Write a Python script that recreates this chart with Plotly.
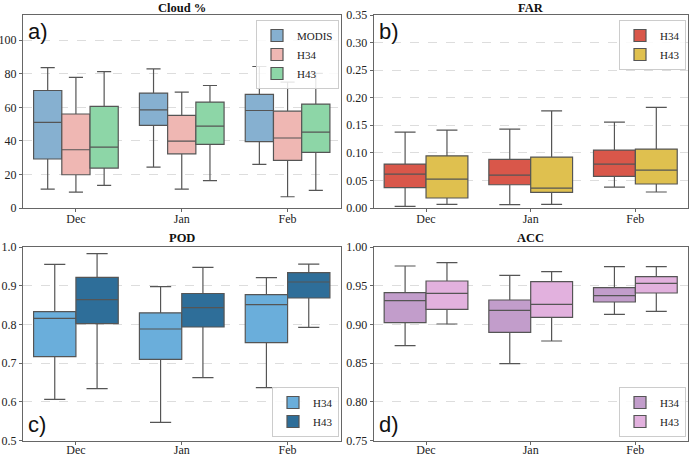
import plotly.graph_objects as go

months = ["Dec", "Jan", "Feb"]

# Cloud % (panel a)
cloud_modis = dict(low=[11.3, 24.4, 26.0], q1=[29.2, 49.2, 39.5], med=[51.0, 58.5, 58.1], q3=[70.0, 68.5, 67.7], high=[83.7, 82.9, 84.3])
cloud_h34 = dict(low=[9.5, 11.3, 6.7], q1=[19.8, 32.3, 28.4], med=[34.7, 39.9, 41.7], q3=[56.0, 55.2, 57.7], high=[77.8, 69.0, 75.0])
cloud_h43 = dict(low=[13.5, 16.3, 10.5], q1=[23.8, 37.9, 33.1], med=[36.3, 48.8, 45.2], q3=[60.5, 63.1, 61.9], high=[81.3, 73.0, 80.2])

# FAR (panel b)
far_h34 = dict(low=[0.003, 0.006, 0.038], q1=[0.0368, 0.0422, 0.0573], med=[0.0616, 0.0597, 0.0797], q3=[0.0797, 0.0881, 0.105], high=[0.1376, 0.143, 0.1557])
far_h43 = dict(low=[0.0066, 0.0066, 0.029], q1=[0.0181, 0.0284, 0.0435], med=[0.0525, 0.0362, 0.0688], q3=[0.0947, 0.0923, 0.1068], high=[0.1412, 0.176, 0.1823])

# POD (panel c)
pod_h34 = dict(low=[0.6067, 0.5473, 0.6368], q1=[0.7169, 0.710, 0.753], med=[0.8158, 0.7883, 0.8511], q3=[0.833, 0.830, 0.877], high=[0.9553, 0.8976, 0.9208])
pod_h43 = dict(low=[0.6343, 0.6627, 0.7926], q1=[0.802, 0.7935, 0.8683], med=[0.864, 0.8434, 0.9096], q3=[0.9217, 0.880, 0.9337], high=[0.9828, 0.9475, 0.956])

# ACC (panel d)
acc_h34 = dict(low=[0.8726, 0.8494, 0.9131], q1=[0.9023, 0.8898, 0.929], med=[0.9307, 0.9182, 0.9372], q3=[0.941, 0.9316, 0.9475], high=[0.9755, 0.9634, 0.9746])
acc_h43 = dict(low=[0.9006, 0.8787, 0.9169], q1=[0.9195, 0.9092, 0.9406], med=[0.9402, 0.926, 0.9531], q3=[0.9561, 0.9553, 0.9617], high=[0.9798, 0.9682, 0.9746])

panels = [
    dict(xa="x", ya="y", legend="legend", title="Cloud %", label="a)", yrange=[0, 115], dtick=20, tickfmt="d",
         series=[("MODIS", cloud_modis, "#86b0d0"), ("H34", cloud_h34, "#efb7b3"), ("H43", cloud_h43, "#8dd6a7")]),
    dict(xa="x2", ya="y2", legend="legend2", title="FAR", label="b)", yrange=[0, 0.35], dtick=0.05, tickfmt=".2f",
         series=[("H34", far_h34, "#d9574a"), ("H43", far_h43, "#dfc04f")]),
    dict(xa="x3", ya="y3", legend="legend3", title="POD", label="c)", yrange=[0.5, 1.0], dtick=0.1, tickfmt=".1f",
         series=[("H34", pod_h34, "#6aaedb"), ("H43", pod_h43, "#2e6e99")]),
    dict(xa="x4", ya="y4", legend="legend4", title="ACC", label="d)", yrange=[0.75, 1.0], dtick=0.05, tickfmt=".2f",
         series=[("H34", acc_h34, "#c29dcb"), ("H43", acc_h43, "#e2b1de")]),
]

W, H = 694, 456
def px(v): return v / W
def py(v): return 1 - v / H

domains = [
    ([px(23), px(340.5)], [py(208), py(15)]),
    ([px(373.7), px(687.7)], [py(208), py(15)]),
    ([px(23), px(340.5)], [py(440.7), py(247)]),
    ([px(373.7), px(687.7)], [py(440.7), py(247)]),
]

legend_pos = [
    dict(x=px(339), y=py(20), xanchor="right", yanchor="top"),
    dict(x=px(686), y=py(20), xanchor="right", yanchor="top"),
    dict(x=px(339), y=py(437), xanchor="right", yanchor="bottom"),
    dict(x=px(686), y=py(437), xanchor="right", yanchor="bottom"),
]
label_pos = [
    (px(26), py(17)), (px(377), py(17)), (px(26), py(439)), (px(377), py(439))
]
title_y = [py(8.5), py(8.5), py(238), py(238)]
standoffs = [-4, -4, -5, -5]

serif = "Liberation Serif"
edge = "#555555"

fig = go.Figure()
layout = dict(
    width=W, height=H, margin=dict(l=0, r=0, t=0, b=0, autoexpand=False),
    paper_bgcolor="white", plot_bgcolor="white",
    boxmode="group", boxgap=0.2, boxgroupgap=0.0,
    font=dict(family=serif, size=12, color="#222222"),
    showlegend=True,
)
annotations = []
for i, p in enumerate(panels):
    for name, d, col in p["series"]:
        fig.add_trace(go.Box(
            x=months, q1=d["q1"], median=d["med"], q3=d["q3"],
            lowerfence=d["low"], upperfence=d["high"],
            name=name, fillcolor=col, line=dict(color=edge, width=1.2),
            whiskerwidth=0.5, xaxis=p["xa"], yaxis=p["ya"], legend=p["legend"],
            alignmentgroup="panel%d" % i, offsetgroup=name,
            boxpoints=False, hoverinfo="skip",
        ))
    suffix = "" if i == 0 else str(i + 1)
    xd, yd = domains[i]
    layout["xaxis" + suffix] = dict(
        domain=xd, anchor=p["ya"], type="category", categoryorder="array", categoryarray=months,
        showline=True, mirror=True, linecolor="#666666", linewidth=1.2,
        ticks="outside", ticklen=3, tickcolor="#666666", showgrid=False, automargin=False,
        ticklabelstandoff=standoffs[i],
        tickfont=dict(family=serif, size=12, color="#222222"),
    )
    layout["yaxis" + suffix] = dict(
        domain=yd, anchor=p["xa"], range=p["yrange"], dtick=p["dtick"], tick0=0, tickformat=p["tickfmt"],
        showline=True, mirror=True, linecolor="#666666", linewidth=1.2,
        ticks="outside", ticklen=3, tickcolor="#666666", automargin=False,
        showgrid=True, gridcolor="#dddddd", griddash="dash", gridwidth=0.8, zeroline=False,
        tickfont=dict(family=serif, size=12, color="#222222"),
    )
    lp = legend_pos[i]
    layout[p["legend"]] = dict(
        x=lp["x"], y=lp["y"], xanchor=lp["xanchor"], yanchor=lp["yanchor"],
        xref="paper", yref="paper",
        bgcolor="rgba(255,255,255,0.85)", bordercolor="#cccccc", borderwidth=1,
        font=dict(family=serif, size=11, color="#222222"), tracegroupgap=0,
        itemwidth=30,
    )
    annotations.append(dict(
        text="<b>" + p["title"] + "</b>", x=(xd[0] + xd[1]) / 2, y=title_y[i], xref="paper", yref="paper",
        xanchor="center", yanchor="middle", borderpad=0, showarrow=False,
        font=dict(family=serif, size=12.5, color="#111111"),
    ))
    lx, ly = label_pos[i]
    annotations.append(dict(
        text=p["label"], x=lx, y=ly, xref="paper", yref="paper",
        xanchor="left", yanchor="top" if i < 2 else "bottom", showarrow=False,
        font=dict(family="Liberation Sans", size=22, color="#111111"),
    ))
layout["annotations"] = annotations
fig.update_layout(**layout)
fig.write_html("out.html")
